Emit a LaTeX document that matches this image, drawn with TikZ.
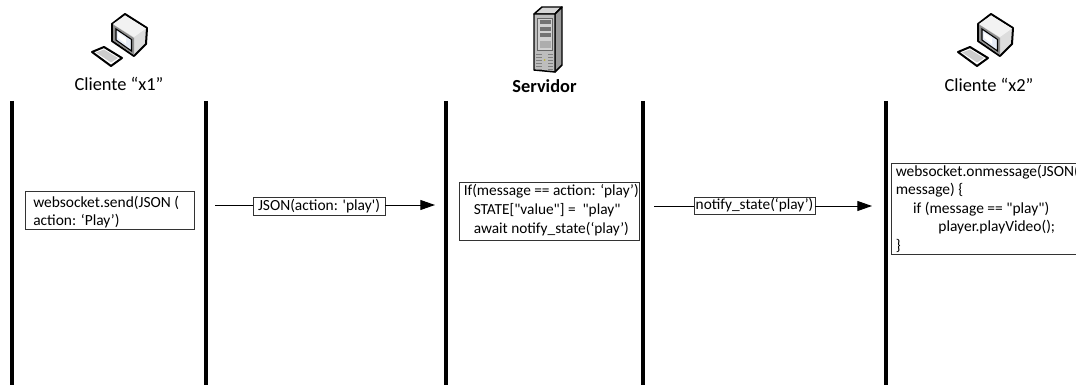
\documentclass[tikz,border=0pt]{standalone}
\usepackage{fontspec}
\setmainfont{Carlito}[Ligatures=TeXOff]
\usetikzlibrary{arrows.meta}
\definecolor{monfront}{HTML}{8E8E8E}
\definecolor{monside}{HTML}{DDDDDD}
\definecolor{montop}{HTML}{F2F2F2}
\definecolor{screenc}{HTML}{E6ECF7}
\definecolor{srvfront}{HTML}{BDBDBD}
\definecolor{srvside}{HTML}{9A9A9A}
\definecolor{srvtop}{HTML}{D6D6D6}
\newcommand{\boxfont}{\fontsize{11.5pt}{14.25pt}\selectfont}
\tikzset{
  x=0.75pt,y=-0.75pt,
  lifeline/.style={line width=3pt,black},
  msgbox/.style={draw=black!80,line width=0.6pt,fill=white,inner sep=0pt,outer sep=0pt,anchor=north west,font=\boxfont},
  boxtext/.style={anchor=north west,inner sep=0pt,align=left,font=\boxfont},
  msg/.style={line width=0.75pt,black},
  msgarrow/.style={msg,-{Triangle[length=11pt,width=7.5pt]}},
  actor/.style={inner sep=0pt,font=\fontsize{13.8pt}{16pt}\selectfont},
  icon/.style={draw=black,line width=1.1pt,line join=round},
}
\newcommand{\computer}[2]{%
  \begin{scope}[shift={(#1,#2)}]
    % keyboard
    \draw[icon,fill=white,line width=1.5pt] (92,52) -- (104,47) -- (122,58) -- (111,66) -- cycle;
    \fill[black!20] (96,52.5) -- (104,49.5) -- (118,58) -- (111,62.5) -- cycle;
    % monitor
    \draw[icon,fill=monside,line width=1.5pt] (125,14) -- (147,28) -- (146,44) -- (134,56) -- (112,41) -- (112,24) -- cycle;
    \fill[montop] (113,24) -- (125,15.5) -- (146,28.5) -- (134,37) -- cycle;
    \fill[monfront] (113,24.5) -- (134,38) -- (134,55) -- (113,40.5) -- cycle;
    \draw[black,line width=0.8pt,fill=screenc] (116,29) -- (131.5,39.5) -- (131.5,51) -- (116,40) -- cycle;
    \fill[white] (118,32.5) -- (126,38) -- (126,44) -- (118,38) -- cycle;
  \end{scope}}
\begin{document}
\begin{tikzpicture}
\useasboundingbox (0,0) rectangle (1076,385);
\clip (0,0) rectangle (1076,385);
% icons
\computer{0}{0}
\computer{866}{0}
% server
\draw[icon,fill=srvtop] (534,14) -- (542,7) -- (562,7) -- (555,14) -- cycle;
\draw[icon,fill=srvside] (555,14) -- (562,7) -- (562,65) -- (555,72) -- cycle;
\draw[icon,fill=srvfront] (534,14) -- (555,14) -- (555,72) -- (534,70) -- cycle;
\draw[draw=black!60,line width=0.6pt,fill=black!18] (537.5,18) rectangle (552,50);
\fill[black!55] (539.5,20.5) rectangle (550.5,24);
\fill[black!55] (539.5,27.5) rectangle (550.5,31);
\fill[black!55] (539.5,33) rectangle (550.5,37);
\fill[black!32] (539.5,41) rectangle (550.5,48);
\foreach \y in {54,57,60,63,66,69}{\draw[black!50,line width=0.7pt] (536,\y) -- (553,\y);}
\fill[srvfront] (541.5,52) rectangle (548,70);
\fill[yellow!70!black] (544.5,60) circle[radius=1];
% actor labels
\node[actor] (x1) at (119,84) {Cliente “x1”};
\node[actor] (srv) at (544.5,86) {\textbf{Servidor}};
\node[actor] (x2) at (989,85) {Cliente “x2”};
% lifelines
\coordinate (l1t) at (12,101);   \coordinate (l1b) at (12,385);
\coordinate (l2t) at (206,101);  \coordinate (l2b) at (206,385);
\coordinate (l3t) at (446,101);  \coordinate (l3b) at (446,385);
\coordinate (l4t) at (643,101);  \coordinate (l4b) at (643,385);
\coordinate (l5t) at (886,101);  \coordinate (l5b) at (886,385);
\foreach \n in {1,...,5}{\draw[lifeline] (l\n t) -- (l\n b);}
% boxes
\node[msgbox,minimum width=169*0.75pt,minimum height=38.5*0.75pt] (b1) at (25,191) {};
\node[boxtext,font=\fontsize{11.6pt}{13.8pt}\selectfont] (b1t) at (33,196) {websocket.send(JSON (\\action: ‘Play’)};
\node[msgbox,minimum width=180*0.75pt,minimum height=58*0.75pt] (b3) at (459,182) {};
\node[boxtext] (b3t) at (463.5,184) {If(message == action: ‘play’)\\\hspace*{7.5pt}STATE["value"] =\ \ "play"\\\hspace*{7.5pt}await notify\_state(‘play’)};
\node[msgbox,minimum width=230*0.75pt,minimum height=91*0.75pt] (b5) at (891,163.5) {};
\node[boxtext,font=\fontsize{11.6pt}{13.9pt}\selectfont] (b5t) at (895.5,164.5) {websocket.onmessage(JSON(\\message) \{\\\hspace*{13pt}if (message == "play")\\\hspace*{32pt}player.playVideo();\\\}};
% messages
\coordinate (m1s) at (215,205);
\coordinate (m1e) at (435,205);
\node[msgbox,anchor=center,font=\fontsize{11.6pt}{14pt}\selectfont,minimum width=132*0.75pt,minimum height=18*0.75pt] (m1) at (319,206) {JSON(action: 'play')};
\draw[msg] (m1s) -- (m1s -| m1.west);
\draw[msgarrow] (m1s -| m1.east) -- (m1e);
\coordinate (m2s) at (654,206);
\coordinate (m2e) at (872,206);
\node[msgbox,anchor=center,minimum width=121*0.75pt,minimum height=17*0.75pt] (m2) at (754.5,205.5) {notify\_state(‘play’)};
\draw[msg] (m2s) -- (m2s -| m2.west);
\draw[msgarrow] (m2s -| m2.east) -- (m2e);
\end{tikzpicture}
\end{document}
